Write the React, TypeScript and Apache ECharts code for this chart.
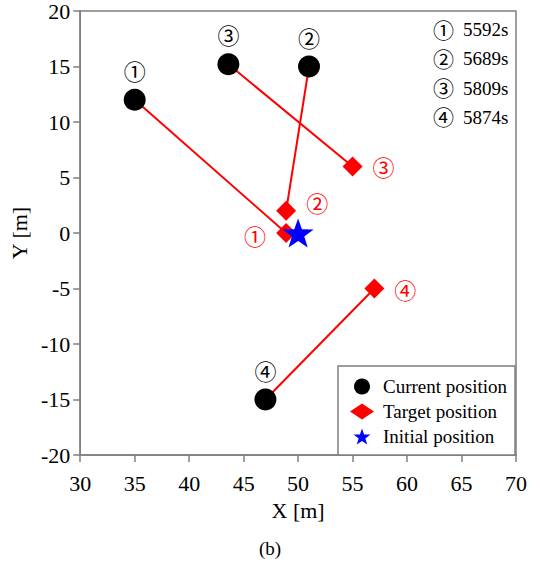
import React, { useEffect, useRef } from "react";
import * as echarts from "echarts";

// Circled indices for each event and the time of each event
const markers = ["①", "②", "③", "④"];
const times = [5592, 5689, 5809, 5874];

// Current position of each event [m]
const currentX = [35, 51, 43.6, 47];
const currentY = [12, 15, 15.2, -15];

// Target position of each event [m]
const targetX = [48.9, 48.9, 55, 57];
const targetY = [0, 2, 6, -5];

// Initial position [m]
const initialX = [50];
const initialY = [0];

// Axis ranges
const xRange = [30, 70];
const yRange = [-20, 20];
const tickStep = 5;

// Where each target's index label sits
const targetLabelSide = ["left", "right", "right", "right"];
const targetLabelOffset = [
  [0, 2],
  [0, -9],
  [0, 0],
  [0, 0],
];

const SERIF = "Liberation Serif";
const CIRCLED = "Noto Sans CJK JP";
const GRAY = "#7f7f7f";

// Five-pointed star outline for the initial-position symbol
const starPath = (() => {
  const pts: string[] = [];
  for (let i = 0; i < 10; i++) {
    const r = i % 2 === 0 ? 1 : 0.4;
    const a = -Math.PI / 2 + (i * Math.PI) / 5;
    pts.push(`${(r * Math.cos(a)).toFixed(4)} ${(r * Math.sin(a)).toFixed(4)}`);
  }
  return "path://M" + pts.join(" L") + " Z";
})();

export default function App() {
  const ref = useRef<HTMLDivElement>(null);

  useEffect(() => {
    if (!ref.current) return;
    const chart = echarts.init(ref.current, null, { renderer: "svg" });

    const moveLines = currentX.map((cx, i) => ({
      type: "line" as const,
      data: [
        [cx, currentY[i]],
        [targetX[i], targetY[i]],
      ],
      symbol: "none",
      lineStyle: { color: "#ff0000", width: 2 },
      z: 2,
      silent: true,
    }));

    const option = {
      animation: false,
      backgroundColor: "#ffffff",
      textStyle: { fontFamily: SERIF },
      grid: {
        left: 76,
        right: 24,
        top: 9,
        bottom: 114,
        show: true,
        borderColor: GRAY,
        borderWidth: 1.5,
      },
      xAxis: {
        type: "value",
        min: xRange[0],
        max: xRange[1],
        interval: tickStep,
        name: "X [m]",
        nameLocation: "middle",
        nameGap: 44,
        nameTextStyle: { fontFamily: SERIF, fontSize: 22, color: "#000" },
        axisLine: { onZero: false, lineStyle: { color: GRAY, width: 1.5 } },
        axisTick: { inside: false, length: 7, lineStyle: { color: GRAY, width: 1.5 } },
        axisLabel: { margin: 17, fontFamily: SERIF, fontSize: 22, color: "#000" },
        splitLine: { show: false },
      },
      yAxis: {
        type: "value",
        min: yRange[0],
        max: yRange[1],
        interval: tickStep,
        name: "Y [m]",
        nameLocation: "middle",
        nameGap: 42,
        nameTextStyle: { fontFamily: SERIF, fontSize: 22, color: "#000" },
        axisLine: { onZero: false, lineStyle: { color: GRAY, width: 1.5 } },
        axisTick: { inside: false, length: 7, lineStyle: { color: GRAY, width: 1.5 } },
        axisLabel: { margin: 10, fontFamily: SERIF, fontSize: 22, color: "#000" },
        splitLine: { show: false },
      },
      legend: {
        data: ["Current position", "Target position", "Initial position"],
        orient: "vertical",
        left: 338,
        top: 366,
        padding: [11, 8, 9, 12],
        itemWidth: 24,
        itemHeight: 16,
        itemGap: 6,
        selectedMode: false,
        backgroundColor: "#ffffff",
        borderColor: GRAY,
        borderWidth: 1.5,
        textStyle: {
          fontFamily: SERIF,
          fontSize: 19,
          color: "#000",
          padding: [0, 0, 0, 4],
        },
      },
      graphic: [
        ...markers.map((m, i) => ({
          type: "text",
          left: 433,
          top: 18 + i * 29.3,
          style: { text: m, fontFamily: CIRCLED, fontSize: 21, fill: "#000" },
        })),
        ...times.map((t, i) => ({
          type: "text",
          left: 463,
          top: 20 + i * 29.3,
          style: { text: `${t}s`, fontFamily: SERIF, fontSize: 19, fill: "#000" },
        })),
        {
          type: "text",
          left: 259,
          top: 539,
          style: { text: "(b)", fontFamily: SERIF, fontSize: 19, fill: "#000" },
        },
      ],
      series: [
        ...moveLines,
        {
          name: "Current position",
          type: "scatter",
          symbol: "circle",
          symbolSize: 22,
          itemStyle: { color: "#000000", opacity: 1 },
          z: 3,
          data: currentX.map((x, i) => [x, currentY[i]]),
          label: {
            show: true,
            position: "top",
            distance: 8,
            formatter: (p: any) => markers[p.dataIndex],
            fontFamily: CIRCLED,
            fontSize: 22,
            color: "#000",
          },
        },
        {
          name: "Target position",
          type: "scatter",
          symbol: "diamond",
          symbolSize: 20,
          itemStyle: { color: "#ff0000", opacity: 1 },
          z: 3,
          data: targetX.map((x, i) => ({
            value: [x, targetY[i]],
            label: {
              show: true,
              position: targetLabelSide[i],
              offset: targetLabelOffset[i],
              distance: 10,
              formatter: markers[i],
              fontFamily: CIRCLED,
              fontSize: 22,
              color: "#ff0000",
            },
          })),
        },
        {
          name: "Initial position",
          type: "scatter",
          symbol: starPath,
          symbolSize: [31, 29],
          itemStyle: { color: "#0000ff", opacity: 1 },
          z: 4,
          data: initialX.map((x, i) => [x, initialY[i]]),
        },
      ],
    };

    chart.setOption(option as any);
    return () => chart.dispose();
  }, []);

  return (
    <div
      ref={ref}
      style={{ position: "absolute", left: 0, top: 0, width: 540, height: 569 }}
    />
  );
}
